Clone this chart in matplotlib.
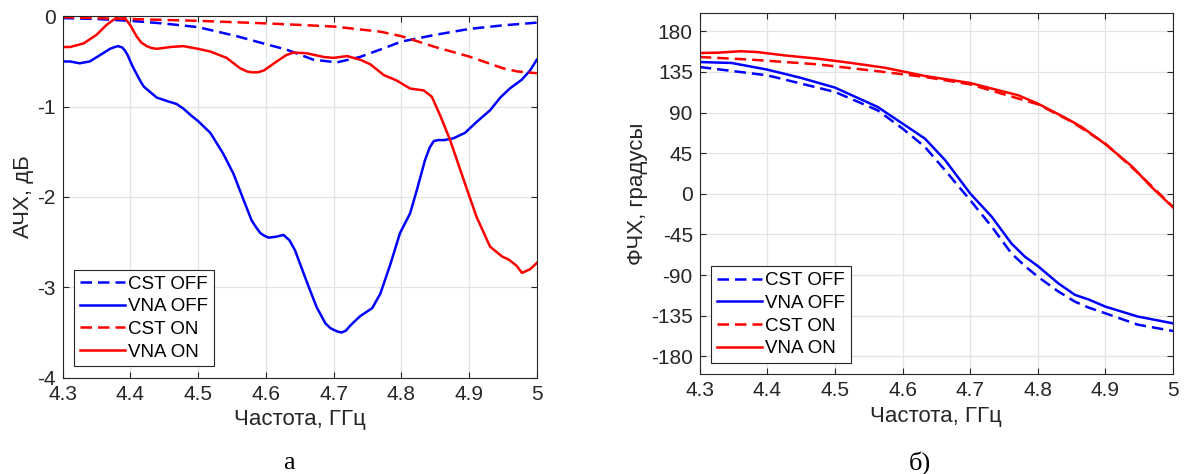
import numpy as np
import matplotlib
matplotlib.use('Agg')
import matplotlib.pyplot as plt

plt.rcParams['font.family'] = ['Liberation Sans', 'DejaVu Sans']
plt.rcParams['axes.unicode_minus'] = False

#АЧХ (а)
f_vna_off=[4.300,4.311,4.325,4.340,4.355,4.370,4.377,4.382,4.388,4.392,4.396,4.400,4.405,4.410,4.415,4.420,
           4.428,4.439,4.447,4.455,4.468,4.478,4.490,4.500,4.518,4.537,4.552,4.567,4.579,4.586,4.592,4.598,
           4.604,4.615,4.626,4.635,4.643,4.663,4.675,4.688,4.695,4.700,4.706,4.712,4.718,4.725,4.739,4.757,
           4.769,4.784,4.798,4.813,4.823,4.835,4.842,4.848,4.855,4.863,4.877,4.894,4.911,4.931,4.946,4.960,
           4.978,4.990,5.000]
a_vna_off=[-0.50,-0.50,-0.52,-0.50,-0.43,-0.36,-0.34,-0.33,-0.345,-0.38,-0.43,-0.50,-0.58,-0.65,-0.72,-0.78,
           -0.83,-0.90,-0.92,-0.94,-0.97,-1.02,-1.10,-1.16,-1.29,-1.52,-1.74,-2.03,-2.26,-2.34,-2.40,-2.43,
           -2.45,-2.44,-2.42,-2.48,-2.59,-2.99,-3.22,-3.40,-3.45,-3.47,-3.49,-3.50,-3.48,-3.42,-3.32,-3.23,
           -3.07,-2.74,-2.40,-2.18,-1.92,-1.59,-1.45,-1.38,-1.37,-1.37,-1.35,-1.29,-1.17,-1.04,-0.90,-0.80,
           -0.70,-0.60,-0.48]
f_cst_off=[4.30,4.35,4.40,4.45,4.50,4.557,4.606,4.631,4.67,4.705,4.739,4.779,4.80,4.85,4.90,4.95,5.00]
a_cst_off=[-0.02,-0.03,-0.05,-0.08,-0.12,-0.22,-0.32,-0.37,-0.48,-0.51,-0.45,-0.34,-0.28,-0.205,-0.14,-0.10,-0.07]
f_cst_on=[4.30,4.40,4.50,4.606,4.70,4.769,4.80,4.85,4.90,4.95,4.971,5.00]
a_cst_on=[-0.01,-0.03,-0.05,-0.08,-0.113,-0.17,-0.22,-0.34,-0.445,-0.575,-0.61,-0.63]
f_vna_on=[4.300,4.311,4.331,4.350,4.365,4.375,4.382,4.387,4.392,4.400,4.409,4.416,4.424,4.431,4.439,4.459,
          4.478,4.500,4.518,4.542,4.562,4.572,4.579,4.588,4.597,4.616,4.630,4.641,4.661,4.685,4.700,4.720,
          4.739,4.754,4.774,4.793,4.813,4.833,4.845,4.858,4.872,4.892,4.911,4.931,4.949,4.958,4.970,4.978,
          4.990,5.000]
a_vna_on=[-0.34,-0.34,-0.30,-0.205,-0.094,-0.04,0.0,0.0,-0.02,-0.10,-0.22,-0.29,-0.33,-0.35,-0.36,-0.34,
          -0.33,-0.36,-0.39,-0.46,-0.575,-0.61,-0.62,-0.62,-0.60,-0.50,-0.43,-0.40,-0.41,-0.45,-0.46,-0.44,
          -0.48,-0.53,-0.65,-0.71,-0.80,-0.82,-0.89,-1.11,-1.37,-1.81,-2.22,-2.55,-2.66,-2.69,-2.76,-2.84,
          -2.80,-2.73]

#ФЧХ (б)
fp_vna_on=[4.30,4.327,4.361,4.386,4.425,4.474,4.524,4.573,4.633,4.70,4.732,4.771,4.80,4.84,4.865,4.90,4.939,4.968,5.00]
p_vna_on=[156,156.4,158,157,153.4,149.8,145,139.8,130.6,122.8,116.6,109.2,100,84.5,74.1,55,30.6,7.7,-15]
fp_cst_on=[4.30,4.376,4.474,4.573,4.633,4.70,4.80,4.85,4.90,4.95,5.00]
p_cst_on=[151.6,148.7,143.5,135,129.5,121.3,99.2,80,55.7,22,-14.4]
fp_vna_off=[4.30,4.347,4.40,4.45,4.50,4.563,4.60,4.633,4.663,4.70,4.732,4.761,4.781,4.80,4.83,4.855,4.875,
            4.90,4.948,5.00]
p_vna_off=[146,145,137.6,128.4,117.7,96.3,77.8,61.2,37.3,0.4,-25.5,-55,-69.7,-80,-99,-112,-117,
           -125,-136,-143.5]
fp_cst_off=[4.30,4.40,4.50,4.563,4.60,4.633,4.663,4.70,4.732,4.761,4.781,4.80,4.83,4.855,4.875,4.90,4.948,5.00]
p_cst_off=[140.5,131.3,112.9,92.6,72.3,52,26,-7,-36.5,-66,-80,-91.8,-108,-119.5,-126,-132.4,-145,-152]

xticks=[4.3,4.4,4.5,4.6,4.7,4.8,4.9,5.0]
xticklabels=['4.3','4.4','4.5','4.6','4.7','4.8','4.9','5']
yticks_a=[0,-1,-2,-3,-4]
yticks_p=[180,135,90,45,0,-45,-90,-135,-180]

gray='#262626'
lw=1.8
dash=(4.6,2.4)

fig=plt.figure(figsize=(11.84,4.74),dpi=100)
ax1=fig.add_axes([0.0529,0.2032,0.4005,0.7624])
ax2=fig.add_axes([0.5910,0.2103,0.3997,0.7616])

def style(ax):
    ax.set_xlim(4.3,5.0)
    ax.set_xticks(xticks)
    ax.set_xticklabels(xticklabels)
    ax.grid(True,color='#e3e3e3',linewidth=0.9)
    ax.set_axisbelow(True)
    ax.tick_params(direction='in',top=True,right=True,length=4,width=0.8,colors=gray,labelsize=15,pad=5)
    for s in ax.spines.values():
        s.set_color(gray)
        s.set_linewidth(0.8)
    ax.set_xlabel('Частота, ГГц',fontsize=16,color=gray,labelpad=4)

ax1.plot(f_cst_off,a_cst_off,color='b',lw=lw,dashes=dash,label='CST OFF')
ax1.plot(f_vna_off,a_vna_off,color='b',lw=lw,label='VNA OFF')
ax1.plot(f_cst_on,a_cst_on,color='r',lw=lw,dashes=dash,label='CST ON')
ax1.plot(f_vna_on,a_vna_on,color='r',lw=lw,label='VNA ON')
style(ax1)
ax1.set_ylim(-4,0)
ax1.set_yticks(yticks_a)
ax1.set_ylabel('АЧХ, дБ',fontsize=16,color=gray,labelpad=2)

ax2.plot(fp_cst_off,p_cst_off,color='b',lw=lw,dashes=dash,label='CST OFF')
ax2.plot(fp_vna_off,p_vna_off,color='b',lw=lw,label='VNA OFF')
ax2.plot(fp_cst_on,p_cst_on,color='r',lw=lw,dashes=dash,label='CST ON')
ax2.plot(fp_vna_on,p_vna_on,color='r',lw=lw,label='VNA ON')
style(ax2)
ax2.set_ylim(-200,200)
ax2.set_yticks(yticks_p)
ax2.set_ylabel('ФЧХ, градусы',fontsize=16,color=gray,labelpad=2)

for ax in (ax1,ax2):
    leg=ax.legend(loc='lower left',fontsize=13.5,handlelength=2.4,handletextpad=0.2,labelspacing=0.3,
                  borderpad=0.3,borderaxespad=0.6,fancybox=False,framealpha=1,edgecolor=gray)
    leg.get_frame().set_linewidth(0.8)

fig.text(0.244,0.023,'а',fontsize=19,family='Liberation Serif',ha='center',va='center')
fig.text(0.777,0.023,'б)',fontsize=19,family='Liberation Serif',ha='center',va='center')

plt.savefig('out.png',dpi=100)
